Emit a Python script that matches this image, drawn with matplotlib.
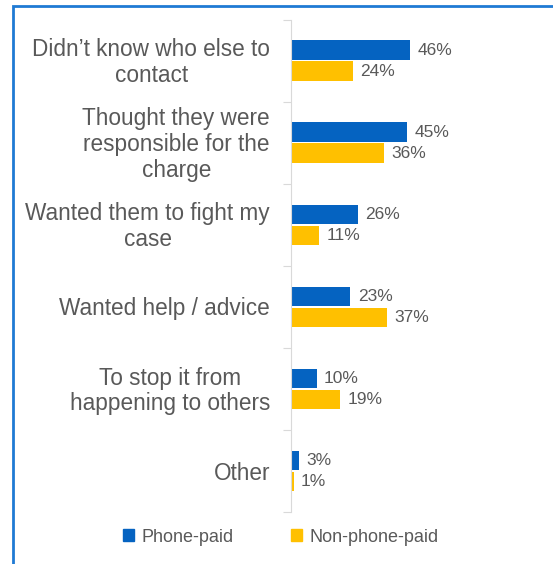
import matplotlib
matplotlib.use("Agg")
import matplotlib.pyplot as plt
from matplotlib.patches import Rectangle, Patch

plt.rcParams['font.family'] = ['Liberation Sans', 'DejaVu Sans']

reasons = [
    "Didn\u2019t know who else to\ncontact",
    "Thought they were\nresponsible for the\ncharge",
    "Wanted them to fight my\ncase",
    "Wanted help / advice",
    "To stop it from\nhappening to others",
    "Other",
]
phone_paid = [46, 45, 26, 23, 10, 3]
non_phone_paid = [24, 36, 11, 37, 19, 1]

blue = "#0563C1"
yellow = "#FFC000"
grey_text = "#595959"

fig = plt.figure(figsize=(5.53, 5.64), dpi=100)

# outline box around the chart area
fig.patches.append(Rectangle((13 / 553, -0.1), 1.2, (1 - 6 / 564) + 0.1,
                             transform=fig.transFigure, fill=False,
                             edgecolor="#1F7AD4", linewidth=2))

ax = fig.add_axes([291 / 553, 1 - 512 / 564, 258.5 / 553, (512 - 19.5) / 564])

pos = list(range(len(reasons)))
h = 0.235
off = 0.128
ax.barh([p - off for p in pos], phone_paid, height=h, color=blue, label="Phone-paid")
ax.barh([p + off for p in pos], non_phone_paid, height=h, color=yellow, label="Non-phone-paid")

for p, v in zip(pos, phone_paid):
    ax.text(v + 2.8, p - off, f"{v}%", va="center", ha="left", fontsize=12.5, color=grey_text)
for p, v in zip(pos, non_phone_paid):
    ax.text(v + 2.8, p + off, f"{v}%", va="center", ha="left", fontsize=12.5, color=grey_text)

ax.set_xlim(0, 100)
ax.set_ylim(len(reasons) - 0.5, -0.5)

for s in ["top", "right", "bottom"]:
    ax.spines[s].set_visible(False)
ax.spines["left"].set_color("#D9D9D9")
ax.set_xticks([])

# category separators on the axis
ax.set_yticks([p - 0.5 for p in pos] + [len(reasons) - 0.5])
ax.set_yticklabels([])
ax.tick_params(axis="y", length=6, color="#D9D9D9")

for p, lab in zip(pos, reasons):
    ax.text(-8.1, p + 0.025, lab, ha="right", va="center", multialignment="center",
            fontsize=16.3, color=grey_text, linespacing=1.15)

handles = [Patch(color=blue, label="Phone-paid"), Patch(color=yellow, label="Non-phone-paid")]
fig.legend(handles=handles, loc="center", bbox_to_anchor=(281 / 553, 1 - 537 / 564),
           ncol=2, frameon=False, fontsize=13, labelcolor=grey_text,
           handlelength=0.6, handleheight=0.6, handletextpad=0.4, columnspacing=3.2)

fig.savefig("out.png", dpi=100)
